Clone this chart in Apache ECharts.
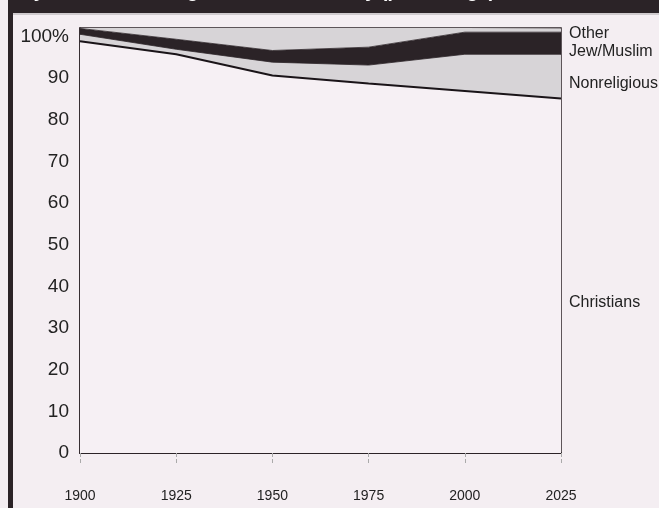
<!DOCTYPE html>
<html>
<head>
<meta charset="utf-8">
<script src="https://cdn.jsdelivr.net/npm/echarts@6/dist/echarts.min.js"></script>
<style>
html,body{margin:0;padding:0;background:#f4eef2;}
#c{width:659px;height:508px;}
</style>
</head>
<body>
<div id="c"></div>
<script>
var years = ['1900', '1925', '1950', '1975', '2000', '2025'];
var christians   = [98.8, 95.7, 90.6, 88.7, 86.9, 85.1];
var nonreligious = [1.7, 1.2, 3.2, 4.4, 8.8, 10.6];
var jewMuslim    = [1.4, 2.4, 2.8, 4.3, 5.3, 5.3];
var other        = [0.1, 2.7, 5.4, 4.6, 1.0, 0.9];
var yTicks = [0, 10, 20, 30, 40, 50, 60, 70, 80, 90, 100];
var seriesNames = ['Christians', 'Nonreligious', 'Jew/Muslim', 'Other'];

var FONT = "'Liberation Sans', Arial, sans-serif";

var chart = echarts.init(document.getElementById('c'), null, {renderer:'canvas'});
var colors = ['#f6f0f4', '#d7d4d7', '#2b2327', '#d7d4d7'];
var lineColors = ['#1a1418', '#2b2327', '#2b2327', '#2b2327'];
var lineWidths = [2, 0.8, 0.8, 0];
var dataSets = [christians, nonreligious, jewMuslim, other];

chart.setOption({
  backgroundColor: '#f4eef2',
  animation: false,
  grid: {left: 80, right: 98, top: 28, bottom: 55, show: true, borderColor: '#2b2327', borderWidth: 1.5, backgroundColor: 'transparent'},
  xAxis: {
    type: 'category', data: years, boundaryGap: false,
    axisLine: {show: true, lineStyle: {color: '#2b2327', width: 2}},
    axisTick: {show: true, length: 12, lineStyle: {color: '#aaa', type: 'dashed', width: 1}},
    splitLine: {show: false},
    axisLabel: {color: '#222', fontFamily: FONT, fontSize: 14, margin: 36}
  },
  yAxis: {
    type: 'value', min: 0, max: 102, interval: 10,
    axisLine: {show: true, lineStyle: {color: '#2b2327', width: 1.5}},
    axisTick: {show: false},
    splitLine: {show: false},
    axisLabel: {color: '#222', fontFamily: FONT, fontSize: 19, margin: 11,
      formatter: function(v){ if (yTicks.indexOf(v) < 0) return ''; return v === 100 ? '100%' : String(v); }}
  },
  series: dataSets.map(function(d, i){
    return {
      name: seriesNames[i], type: 'line', stack: 'all', symbol: 'none',
      data: d, z: 2,
      lineStyle: {color: lineColors[i], width: lineWidths[i]},
      areaStyle: {color: colors[i], opacity: 1}
    };
  }),
  graphic: [
    {type: 'rect', shape: {x: 8, y: 0, width: 651, height: 13}, style: {fill: '#2b2327'}},
    {type: 'rect', shape: {x: 8, y: 0, width: 5, height: 508}, style: {fill: '#2b2327'}},
    {type: 'rect', shape: {x: 13, y: 13, width: 646, height: 2}, style: {fill: '#cfcacd'}},
    {type: 'text', x: 20, y: 1, style: {text: 'By the modern religious breakdown, by (percentage)', fill: '#fff', font: "bold 19px 'Liberation Sans', Arial, sans-serif", textBaseline: 'alphabetic', verticalAlign: 'bottom'}},
    {type: 'text', left: 569, top: 26, style: {text: 'Other', fill: '#222', font: "16px " + FONT}},
    {type: 'text', left: 569, top: 44, style: {text: 'Jew/Muslim', fill: '#222', font: "16px " + FONT}},
    {type: 'text', left: 569, top: 76, style: {text: 'Nonreligious', fill: '#222', font: "16px " + FONT}},
    {type: 'text', left: 569, top: 295, style: {text: 'Christians', fill: '#222', font: "16px " + FONT}}
  ]
});
</script>
</body>
</html>
